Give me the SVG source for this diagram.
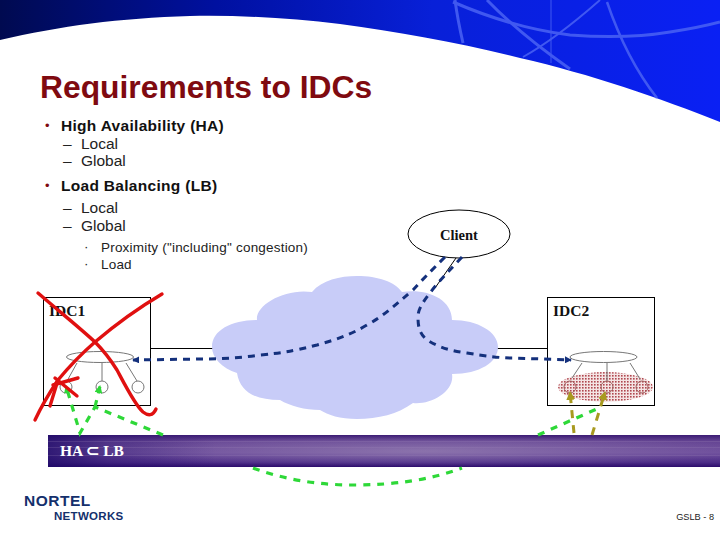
<svg xmlns="http://www.w3.org/2000/svg" width="720" height="540" viewBox="0 0 720 540">
<defs>
<linearGradient id="hdr" x1="0" y1="0" x2="1" y2="0"><stop offset="0" stop-color="#000a50"/><stop offset="0.3" stop-color="#0010a0"/><stop offset="0.6" stop-color="#0820d8"/><stop offset="1" stop-color="#0a20f4"/></linearGradient>
<linearGradient id="bar" x1="0" y1="0" x2="0" y2="1"><stop offset="0" stop-color="#3c1c74"/><stop offset="0.2" stop-color="#664694"/><stop offset="0.55" stop-color="#6e4e9c"/><stop offset="0.85" stop-color="#4e2e88"/><stop offset="1" stop-color="#2c0c6c"/></linearGradient>
<radialGradient id="barGlow" cx="0.56" cy="0.5" r="0.5"><stop offset="0" stop-color="#b0a0c0" stop-opacity=".45"/><stop offset="1" stop-color="#a898c0" stop-opacity="0"/></radialGradient>
<linearGradient id="barEdge" x1="0" y1="0" x2="1" y2="0"><stop offset="0" stop-color="#1c0868" stop-opacity=".75"/><stop offset="0.09" stop-color="#1c0868" stop-opacity=".3"/><stop offset="0.25" stop-color="#1c0868" stop-opacity="0"/></linearGradient>
<pattern id="dots" width="3" height="3" patternUnits="userSpaceOnUse"><rect width="3" height="3" fill="#f4e4e4"/><rect width="1.6" height="1.6" fill="#b04850"/></pattern>
<marker id="ab" viewBox="0 0 8 8" refX="7" refY="4" markerWidth="7" markerHeight="7" markerUnits="userSpaceOnUse" orient="auto"><path d="M0 0L8 4L0 8Z" fill="#14307c"/></marker>
<marker id="ag" viewBox="0 0 8 8" refX="7" refY="4" markerWidth="8" markerHeight="8" markerUnits="userSpaceOnUse" orient="auto"><path d="M0 0L8 4L0 8Z" fill="#2ed838"/></marker>
<marker id="ao" viewBox="0 0 8 8" refX="7" refY="4" markerWidth="9" markerHeight="9" markerUnits="userSpaceOnUse" orient="auto"><path d="M0 0L8 4L0 8Z" fill="#a89a20"/></marker>
</defs>
<style>
.s{font-family:"Liberation Sans",Arial,sans-serif}
.b{font-family:"Liberation Serif","Times New Roman",serif;font-weight:bold;fill:#111}
.h{font-size:15.5px;font-weight:bold;fill:#111;letter-spacing:.3px}
.m{font-size:15.5px;fill:#222}
.n{font-size:13.5px;fill:#222;letter-spacing:.2px}
.d{fill:#7f0a10}
.box{fill:#fff;stroke:#000;stroke-width:1}
.g{fill:none;stroke:#777;stroke-width:1}
.srv{fill:none;stroke:#777;stroke-width:1}
.srv2{fill:none;stroke:#a06060;stroke-width:1}
.blue{fill:none;stroke:#14307c;stroke-width:3;stroke-dasharray:7 6}
.grn{fill:none;stroke:#2ed838;stroke-width:3.2;stroke-dasharray:7 7}
.ol{fill:none;stroke:#a89a20;stroke-width:3;stroke-dasharray:8 7}
.red{fill:none;stroke:#e01010;stroke-width:3.4;stroke-linecap:round}
</style>
<rect width="720" height="540" fill="#fff"/>
<g id="header">
<path d="M0 0H720V122C660 98 590 74 520 58C460 43 400 32 340 24C290 18 240 15 190 16C120 18 60 26 0 40Z" fill="url(#hdr)"/>
<g fill="none" stroke="#4a62f4" stroke-width="3" opacity=".85">
<path d="M453 2C490 18 530 30 570 35C610 38 640 37 670 32C690 29 705 26 720 22"/>
<path d="M455 0C457 15 460 30 463 43"/>
<path d="M487 0C510 24 540 48 570 69"/>
<path d="M600 0C575 22 550 42 523 57" stroke-width="2"/>
<path d="M607 2C620 40 635 70 657 98" stroke-width="2.5"/>
<path d="M551 0V63" stroke-width="1"/>
</g>
</g>
<text class="s d" x="40" y="98" font-size="31.800" font-weight="bold">Requirements to IDCs</text>
<g id="bullets" class="s">
<text class="d" x="45" y="130" font-size="13">•</text><text class="h" x="61" y="131">High Availability (HA)</text>
<text class="m" x="63" y="149">–</text><text class="m" x="81" y="149">Local</text>
<text class="m" x="63" y="166">–</text><text class="m" x="81" y="166">Global</text>
<text class="d" x="45" y="190" font-size="13">•</text><text class="h" x="61" y="191">Load Balancing (LB)</text>
<text class="m" x="63" y="213">–</text><text class="m" x="81" y="213">Local</text>
<text class="m" x="63" y="231">–</text><text class="m" x="81" y="231">Global</text>
<text class="n" x="84" y="251">·</text><text class="n" x="101" y="252">Proximity ("including" congestion)</text>
<text class="n" x="84" y="268">·</text><text class="n" x="101" y="269">Load</text>
</g>
<g id="bar">
<rect x="48" y="435" width="672" height="32" fill="url(#bar)"/>
<rect x="48" y="435" width="672" height="32" fill="url(#barGlow)"/>
<rect x="48" y="435" width="672" height="32" fill="url(#barEdge)"/>
<path d="M48 441.500H720M48 447.500H720M48 455.500H720" stroke="#a890c0" stroke-width="1" opacity=".2"/>
<text class="b" x="60" y="456" font-size="15.500" style="fill:#fff">HA ⊂ LB</text>
</g>
<line x1="151" y1="348.500" x2="214" y2="348.500" stroke="#000" stroke-width="1"/>
<line x1="497" y1="348.500" x2="547" y2="348.500" stroke="#000" stroke-width="1"/>
<g id="cloud">
<path d="M212 347C212 330 232 320 257 320C255 305 285 288 312 292C322 280 340 276 357 276C378 276 395 282 402 292C425 288 452 298 452 320C478 320 498 332 498 347C498 362 480 374 452 374C455 392 430 405 413 403C398 414 378 419 357 419C340 419 328 415 320 410C305 410 290 406 280 400C255 400 240 392 237 373C222 368 212 358 212 347Z" fill="#c8ccf8"/>
</g>
<g id="idc1">
<rect class="box" x="43.500" y="297.500" width="107" height="108"/>
<text class="b" x="49" y="316" font-size="15.500">IDC1</text>
<ellipse class="g" cx="100" cy="357" rx="33.500" ry="5.500"/>
<path class="g" d="M77 363L67 381M102 363V381M126 363L137 381"/>
<circle class="srv" cx="66" cy="387" r="6"/><circle class="srv" cx="102" cy="387" r="6"/><circle class="srv" cx="138" cy="387" r="6"/>
</g>
<g id="idc2">
<rect class="box" x="547.500" y="297.500" width="107" height="108"/>
<text class="b" x="553" y="316" font-size="15.500">IDC2</text>
<ellipse cx="605.500" cy="387" rx="47.500" ry="15" fill="url(#dots)"/>
<ellipse cx="603.500" cy="357" rx="33.500" ry="5.500" fill="#fff" stroke="#777"/>
<path class="g" d="M582 363L572 378M607 363V381M630 363L640 379"/>
<circle class="srv2" cx="570" cy="387" r="6"/><circle class="srv2" cx="607" cy="387" r="6"/><circle class="srv2" cx="642" cy="387" r="6"/>
</g>
<g id="client">
<ellipse cx="459" cy="234" rx="51" ry="24" fill="#fff" stroke="#000" stroke-width="1"/>
<text class="b" x="459" y="240" font-size="14.500" text-anchor="middle">Client</text>
</g>
<g id="connectors">
<path d="M456 258L435 288" stroke="#000" stroke-width="1" fill="none"/>
<path class="blue" marker-end="url(#ab)" d="M445 257C430 272 420 282 413 290C395 305 385 315 367 325C350 335 335 340 317 345C290 352 280 353 260 355C240 358 220 359 200 359L133 360"/>
<path class="blue" marker-end="url(#ab)" d="M462 257C450 270 438 282 430 293C422 303 418 310 418 317C418 328 420 334 427 340C440 348 452 351 467 353C485 356 500 358 513 358L571 360"/>
<path class="grn" marker-end="url(#ag)" d="M163 435L95 407L80 433L66 386"/>
<path class="grn" marker-end="url(#ag)" d="M95 407L100 386"/>
<path class="grn" d="M253 468C285 480 320 485 353 485C395 485 430 480 462 468"/>
<path class="grn" d="M538 435L599 408"/>
<path class="ol" marker-end="url(#ao)" d="M574 433L570 392"/>
<path class="ol" marker-end="url(#ao)" d="M592 435L605 392"/>
</g>
<g id="cross">
<path class="red" d="M38 293C60 312 80 328 95 342C105 352 112 362 117 370C125 385 135 405 143 412C148 416 153 416 156 409"/>
<path class="red" d="M162 294C135 310 115 325 95 342C80 355 68 368 58 380C50 392 42 405 35 420"/>
<path class="red" d="M50 406L58 380M55 378L77 396M78 378L53 385"/>
</g>
<g id="logo">
<text x="24" y="505.500" class="s" font-size="15.500" font-weight="bold" fill="#14306c" letter-spacing=".5">NORTEL</text>
<text x="54" y="519.500" class="s" font-size="11.500" font-weight="bold" fill="#14306c" letter-spacing=".3">NETWORKS</text>
</g>
<text class="s" x="714" y="520" font-size="9.200" fill="#222" text-anchor="end">GSLB - 8</text>
</svg>
